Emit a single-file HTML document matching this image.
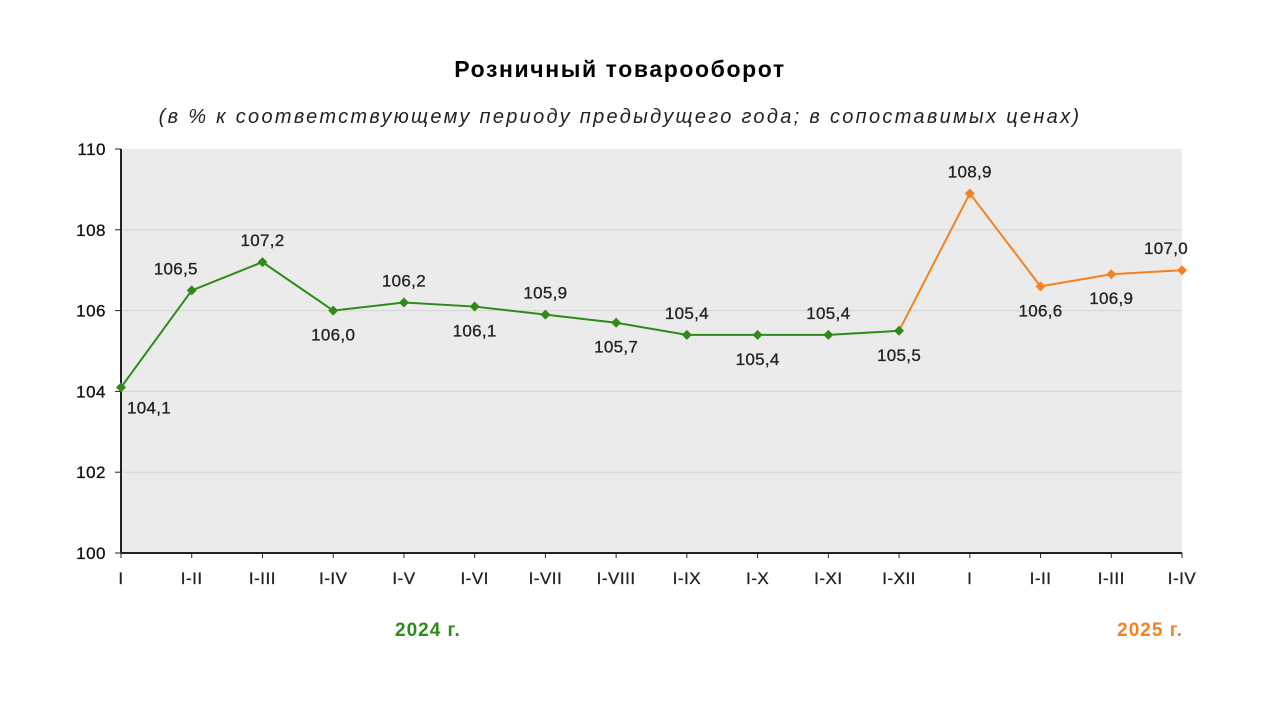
<!DOCTYPE html>
<html><head><meta charset="utf-8">
<style>
body{margin:0;background:#fff;font-family:"Liberation Sans",Arial,sans-serif;}
svg{display:block}
</style></head>
<body>
<svg id="chart" width="1280" height="720">
<text x="620" y="77" text-anchor="middle" font-size="23" font-weight="bold" letter-spacing="1.6" fill="#000">Розничный товарооборот</text>
<text x="620" y="123" text-anchor="middle" font-size="20" font-style="italic" letter-spacing="2.3" fill="#222">(в % к соответствующему периоду предыдущего года; в сопоставимых ценах)</text>
<rect x="121" y="149" width="1061" height="404" fill="#ebebeb"/>
<g id="grid"></g>
<g id="axes"></g>
<g id="series"></g>
<text x="395" y="636" text-anchor="start" font-size="19" font-weight="bold" letter-spacing="1" fill="#2e8b1a">2024 г.</text>
<text x="1183" y="636" text-anchor="end" font-size="19" font-weight="bold" letter-spacing="1" fill="#f58220">2025 г.</text>
</svg>
<script>
const categories=["I","I-II","I-III","I-IV","I-V","I-VI","I-VII","I-VIII","I-IX","I-X","I-XI","I-XII","I","I-II","I-III","I-IV"];
const values2024=[104.1,106.5,107.2,106.0,106.2,106.1,105.9,105.7,105.4,105.4,105.4,105.5];
const values2025=[108.9,106.6,106.9,107.0];
const yTicks=[100,102,104,106,108,110];
const labelPlacement=["br","al","a","b","a","b","a","b","a","b","a","b","a","b","b","al"];
const NS="http://www.w3.org/2000/svg";
const X0=121,X1=1182,Y0=553,Y1=149;
const x=i=>X0+i*(X1-X0)/(categories.length-1);
const y=v=>Y0-(v-100)/(110-100)*(Y0-Y1);
function mk(tag,attrs,parent){const e=document.createElementNS(NS,tag);for(const k in attrs)e.setAttribute(k,attrs[k]);parent.appendChild(e);return e;}
const grid=document.getElementById('grid'),axes=document.getElementById('axes'),series=document.getElementById('series');
yTicks.forEach(t=>{
  if(t>100&&t<110){const l=mk('line',{x1:X0,x2:X1,y1:y(t),y2:y(t),stroke:'#d4d4d4','stroke-width':1},grid);
  
  }
  const tk=mk('line',{x1:X0-6,x2:X0,y1:y(t),y2:y(t),stroke:'#222','stroke-width':1},axes);
  
  
  const tx=mk('text',{x:X0-15,y:y(t)+6,'text-anchor':'end','font-size':17,'letter-spacing':0.5,fill:'#111','stroke':'#111','stroke-width':0.3},axes);tx.textContent=t;
  
  
});
const ya=mk('line',{x1:X0,x2:X0,y1:Y1,y2:Y0,stroke:'#222','stroke-width':2},axes);


const xa=mk('line',{x1:X0,x2:X1,y1:Y0,y2:Y0,stroke:'#222','stroke-width':2},axes);


categories.forEach((c,i)=>{
  const tk=mk('line',{x1:x(i),x2:x(i),y1:Y0,y2:Y0+5,stroke:'#222','stroke-width':1},axes);
  
  
  const tx=mk('text',{x:x(i),y:Y0+31,'text-anchor':'middle','font-size':17,'letter-spacing':0.5,fill:'#222','stroke':'#222','stroke-width':0.3},axes);tx.textContent=c;
  
  
});
function drawSeries(vals,offset,color,name){
  const pts=vals.map((v,i)=>x(i+offset)+','+y(v)).join(' ');
  const pl=mk('polyline',{points:pts,fill:'none',stroke:color,'stroke-width':2},series);
  
  
  vals.forEach((v,i)=>{
    const cx=x(i+offset),cy=y(v);
    const m=mk('polygon',{points:`${cx},${cy-5} ${cx+5},${cy} ${cx},${cy+5} ${cx-5},${cy}`,fill:color},series);
    
    
    const p=labelPlacement[i+offset];
    let lx=cx,ly=cy-16;
    if(p==='b'){ly=cy+30;}
    if(p==='br'){lx=cx+28;ly=cy+26;}
    if(p==='al'){lx=cx-16;ly=cy-16;}
    const t=mk('text',{x:lx,y:ly,'text-anchor':'middle','font-size':17,'letter-spacing':0.3,fill:'#222','stroke':'#222','stroke-width':0.3},series);
    t.textContent=v.toFixed(1).replace('.',',');
    
    
  });
}
const con=mk('line',{x1:x(11),y1:y(values2024[11]),x2:x(12),y2:y(values2025[0]),stroke:'#f58220','stroke-width':2},series);


drawSeries(values2024,0,'#2e8b1a','series-2024');
drawSeries(values2025,12,'#f58220','series-2025');
</script>
</body></html>
